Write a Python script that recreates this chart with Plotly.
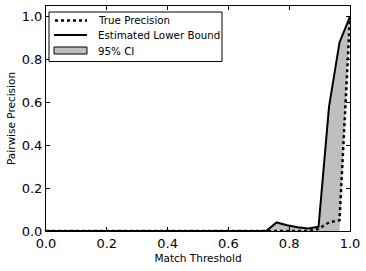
import numpy as np
import plotly.graph_objects as go

thresholds = [i / 29 for i in range(30)]
true_precision = [0.0] * 26 + [0.01, 0.04, 0.05, 1.0]
lower_bound = [0.0] * 22 + [0.04, 0.027, 0.018, 0.012, 0.02, 0.58, 0.88, 1.0]
ci_low = [0.0] * 29 + [1.0]
ci_high = lower_bound

tick_vals = [0.0, 0.2, 0.4, 0.6, 0.8, 1.0]
tick_text = ["0.0", "0.2", "0.4", "0.6", "0.8", "1.0"]
legend_labels = ["True Precision", "Estimated Lower Bound", "95% CI"]

grey = "#bfbfbf"
font = "DejaVu Sans"

W, H = 366, 271
ML, MR, MT, MB = 46, 16, 6, 40
PW, PH = W - ML - MR, H - MT - MB


def fx(px):
    return (px - ML) / PW


def fy(py):
    return (H - MB - py) / PH


fig = go.Figure()
fig.add_trace(go.Scatter(x=thresholds, y=ci_low, mode="lines",
                         line=dict(width=0, color=grey), showlegend=False, hoverinfo="skip"))
fig.add_trace(go.Scatter(x=thresholds, y=ci_high, mode="lines", fill="tonexty",
                         fillcolor=grey, line=dict(width=0, color=grey),
                         showlegend=False, hoverinfo="skip"))
fig.add_trace(go.Scatter(x=thresholds, y=lower_bound, mode="lines",
                         line=dict(color="black", width=2),
                         name=legend_labels[1], showlegend=False))
fig.add_trace(go.Scatter(x=thresholds, y=true_precision, mode="lines",
                         line=dict(color="black", width=2.5, dash="dot"),
                         name=legend_labels[0], showlegend=False))

axis_common = dict(showline=True, linecolor="black", linewidth=1, mirror="ticks",
                   ticks="inside", ticklen=4, tickcolor="black", tickwidth=1,
                   showgrid=False, zeroline=False,
                   tickfont=dict(family=font, size=13, color="black"))

# manual legend (box, samples, labels)
shapes = [
    dict(type="rect", xref="paper", yref="paper",
         x0=fx(49), x1=fx(222), y0=fy(61.5), y1=fy(12),
         line=dict(color="black", width=1), fillcolor="white", layer="above"),
    dict(type="line", xref="paper", yref="paper",
         x0=fx(55), x1=fx(87), y0=fy(20.5), y1=fy(20.5),
         line=dict(color="black", width=2.5, dash="dot"), layer="above"),
    dict(type="line", xref="paper", yref="paper",
         x0=fx(54), x1=fx(87), y0=fy(35), y1=fy(35),
         line=dict(color="black", width=2), layer="above"),
    dict(type="rect", xref="paper", yref="paper",
         x0=fx(54), x1=fx(87), y0=fy(54), y1=fy(47),
         line=dict(color="black", width=1), fillcolor=grey, layer="above"),
]
annotations = []
for lab, py in zip(legend_labels, [20.5, 35, 50.5]):
    annotations.append(dict(text=lab, xref="paper", yref="paper", x=fx(96), y=fy(py),
                            xanchor="left", yanchor="middle", showarrow=False,
                            font=dict(family=font, size=10.3, color="black")))

fig.update_layout(
    width=W, height=H,
    margin=dict(l=ML, r=MR, t=MT, b=MB),
    paper_bgcolor="white", plot_bgcolor="white",
    font=dict(family=font, color="black"),
    xaxis=dict(range=[0, 1], tickvals=tick_vals, ticktext=tick_text,
               title=dict(text="Match Threshold", font=dict(size=10.5), standoff=5),
               **axis_common),
    yaxis=dict(range=[0, 1.05], tickvals=tick_vals, ticktext=tick_text,
               title=dict(text="Pairwise Precision", font=dict(size=10.5), standoff=4),
               **axis_common),
    shapes=shapes,
    annotations=annotations,
    showlegend=False,
)

fig.write_html("out.html", config={"displayModeBar": False},
               post_script="document.body.style.margin='0px';document.body.style.overflow='hidden';")
